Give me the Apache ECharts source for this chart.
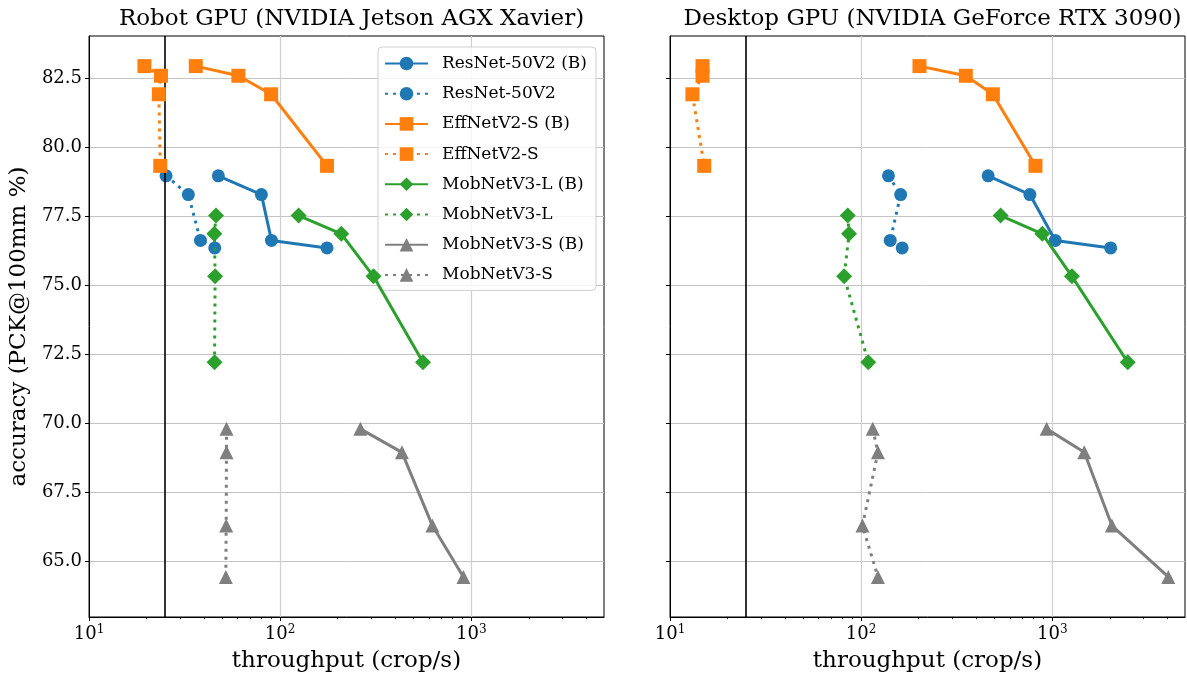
<!DOCTYPE html>
<html>
<head>
<meta charset="utf-8">
<script src="https://cdn.jsdelivr.net/npm/echarts@6/dist/echarts.min.js"></script>
<style>
html,body{margin:0;padding:0;background:#fff;}
#chart{width:1187px;height:679px;}
</style>
</head>
<body>
<div id="chart"></div>
<script>
// ---- data ----
const seriesNames = ['ResNet-50V2 (B)', 'ResNet-50V2', 'EffNetV2-S (B)', 'EffNetV2-S',
                     'MobNetV3-L (B)', 'MobNetV3-L', 'MobNetV3-S (B)', 'MobNetV3-S'];
const panelTitles = ['Robot GPU (NVIDIA Jetson AGX Xavier)', 'Desktop GPU (NVIDIA GeForce RTX 3090)'];

// accuracy (PCK@100mm %)
const accResNet = [78.97, 78.29, 76.63, 76.36];
const accEffNet = [82.94, 82.59, 81.92, 79.33];
const accMobL   = [77.53, 76.87, 75.33, 72.22];
const accMobS   = [69.81, 68.96, 66.31, 64.45];

// throughput (crop/s) - Robot GPU
const robotResNetB = [47.5, 79.8, 90.1, 176];
const robotResNet  = [25.3, 33.1, 38.3, 45.5];
const robotEffNetB = [36.2, 60.5, 89.7, 176];
const robotEffNet  = [19.5, 23.8, 23.2, 23.6];
const robotMobLB   = [125, 209, 308, 559];
const robotMobL    = [46.2, 45.3, 45.7, 45.4];
const robotMobSB   = [263, 434, 626, 910];
const robotMobS    = [52.4, 52.4, 52.2, 52.0];

// throughput (crop/s) - Desktop GPU
const deskResNetB = [462, 764, 1037, 2022];
const deskResNet  = [139, 161, 142, 164];
const deskEffNetB = [202, 353, 489, 817];
const deskEffNet  = [14.8, 14.8, 13.1, 15.1];
const deskMobLB   = [537, 887, 1268, 2483];
const deskMobL    = [85.1, 86.5, 81.5, 109];
const deskMobSB   = [935, 1471, 2051, 4049];
const deskMobS    = [115, 122.5, 101.6, 122.5];

const refLineX = 25;
const yTicks = [65.0, 67.5, 70.0, 72.5, 75.0, 77.5, 80.0, 82.5];
const xMajorTicks = [10, 100, 1000];
const xMinorTicks = [20, 30, 40, 50, 60, 70, 80, 90, 200, 300, 400, 500, 600, 700, 800, 900, 2000, 3000, 4000];
const xRange = [10, 4950];
const yRange = [63.0, 84.03];

// ---- styling ----
const FONT = 'DejaVu Serif';
const colors = ['#1f77b4', '#1f77b4', '#ff7f0e', '#ff7f0e', '#2ca02c', '#2ca02c', '#7f7f7f', '#7f7f7f'];
const symbols = ['circle', 'circle', 'rect', 'rect', 'diamond', 'diamond', 'triangle', 'triangle'];
const symbolSizes = [13, 13, 14, 14, 16, 16, 14, 14];
const dotted = [3, 5];

const panels = [
  {xs: [robotResNetB, robotResNet, robotEffNetB, robotEffNet, robotMobLB, robotMobL, robotMobSB, robotMobS]},
  {xs: [deskResNetB, deskResNet, deskEffNetB, deskEffNet, deskMobLB, deskMobL, deskMobSB, deskMobS]}
];
const accs = [accResNet, accResNet, accEffNet, accEffNet, accMobL, accMobL, accMobS, accMobS];

const grids = [
  {left: 89, right: 1187 - 604, top: 36, bottom: 679 - 617},
  {left: 670, right: 1187 - 1185, top: 36, bottom: 679 - 617}
];

const xAxes = [], yAxes = [], series = [], titles = [];
grids.forEach((g, gi) => {
  g.show = true; g.borderColor = '#000'; g.borderWidth = 1; g.containLabel = false;
  const cx = g.left + (1187 - g.left - g.right) / 2;
  titles.push({
    text: panelTitles[gi], left: cx, top: 3, textAlign: 'center',
    textStyle: {fontFamily: FONT, fontSize: 23, fontWeight: 'normal', color: '#000'}
  });
  // major x axis
  xAxes.push({
    type: 'log', logBase: 10, gridIndex: gi, min: xRange[0], max: xRange[1],
    name: 'throughput (crop/s)', nameLocation: 'middle', nameGap: 33,
    nameTextStyle: {fontFamily: FONT, fontSize: 23, color: '#000'},
    axisLine: {show: true, lineStyle: {color: '#000', width: 1}},
    axisTick: {show: true, inside: false, length: 4, customValues: xMajorTicks, lineStyle: {color: '#000', width: 1}},
    axisLabel: {
      customValues: xMajorTicks, margin: 7, color: '#000', fontFamily: FONT, fontSize: 18,
      formatter: v => '10{s|' + Math.round(Math.log10(v)) + '}',
      rich: {s: {fontFamily: FONT, fontSize: 12, verticalAlign: 'top', padding: [0, 0, 9, 0], color: '#000'}}
    },
    splitLine: {show: true, lineStyle: {color: '#cfcfcf', width: 1.2}},
    minorTick: {show: false}
  });
  // minor x ticks axis (overlay)
  xAxes.push({
    type: 'log', logBase: 10, gridIndex: gi, min: xRange[0], max: xRange[1], position: 'bottom',
    axisLine: {show: false},
    axisTick: {show: true, inside: false, length: 2.2, customValues: xMinorTicks, lineStyle: {color: '#000', width: 0.8}},
    axisLabel: {show: false},
    splitLine: {show: false}
  });
  yAxes.push({
    type: 'value', gridIndex: gi, min: yRange[0], max: yRange[1],
    name: gi === 0 ? 'accuracy (PCK@100mm %)' : '', nameLocation: 'middle', nameGap: 58,
    nameTextStyle: {fontFamily: FONT, fontSize: 23, color: '#000'},
    axisLine: {show: true, lineStyle: {color: '#000', width: 1}},
    axisTick: {show: true, inside: false, length: 4, customValues: yTicks, lineStyle: {color: '#000', width: 1}},
    axisLabel: {
      show: gi === 0, customValues: yTicks, margin: 7, color: '#000', fontFamily: FONT, fontSize: 18,
      formatter: v => v.toFixed(1)
    },
    splitLine: {show: true, lineStyle: {color: '#c4c4c4', width: 1}}
  });
  const xs = panels[gi].xs;
  seriesNames.forEach((name, si) => {
    const s = {
      type: 'line', name: name, xAxisIndex: gi * 2, yAxisIndex: gi,
      data: xs[si].map((x, k) => [x, accs[si][k]]),
      symbol: symbols[si], symbolSize: symbolSizes[si], showAllSymbol: true,
      color: colors[si],
      itemStyle: {color: colors[si], opacity: 1},
      lineStyle: {color: colors[si], width: 3, type: si % 2 === 0 ? 'solid' : dotted, cap: 'butt'},
      emphasis: {disabled: true},
      animation: false, z: 3 + si
    };
    if (si === 0) {
      s.markLine = {
        silent: true, symbol: ['none', 'none'], animation: false,
        label: {show: false},
        lineStyle: {color: '#000', type: 'solid', width: 1.6},
        emphasis: {disabled: true},
        data: [{xAxis: refLineX}]
      };
    }
    series.push(s);
  });
});

const chart = echarts.init(document.getElementById('chart'), null, {renderer: 'canvas'});
chart.setOption({
  backgroundColor: '#fff',
  animation: false,
  title: titles,
  grid: grids,
  xAxis: xAxes,
  yAxis: yAxes,
  legend: {
    data: seriesNames,
    orient: 'vertical', left: 378, top: 47,
    padding: [8, 9, 7, 6],
    itemWidth: 43, itemHeight: 17, itemGap: 13.2,
    backgroundColor: 'rgba(255,255,255,0.8)',
    borderColor: '#d0d0d0', borderWidth: 1, borderRadius: 4,
    textStyle: {fontFamily: FONT, fontSize: 17, color: '#000', padding: [0, 0, 0, 9]},
    selectedMode: false
  },
  series: series
});
</script>
</body>
</html>
